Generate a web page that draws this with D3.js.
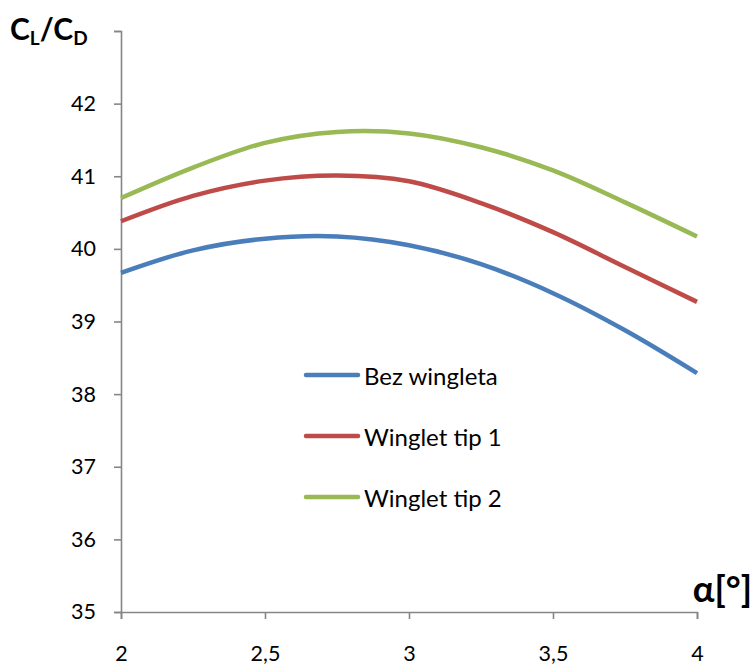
<!DOCTYPE html>
<html><head><meta charset="utf-8">
<script src="https://cdn.jsdelivr.net/npm/d3@7"></script>
<style>body{margin:0;background:#fff}svg{display:block}</style>
</head><body>
<svg id="c" width="755" height="668"></svg>
<script>
const alpha = [2, 2.25, 2.5, 2.75, 3, 3.25, 3.5, 3.75, 4];
const bezWingleta = [39.67, 39.98, 40.14, 40.17, 40.05, 39.79, 39.39, 38.88, 38.29];
const wingletTip1 = [40.38, 40.73, 40.94, 41.01, 40.93, 40.63, 40.23, 39.75, 39.27];
const wingletTip2 = [40.70, 41.12, 41.46, 41.61, 41.59, 41.40, 41.08, 40.64, 40.17];
const seriesNames = ["Bez wingleta", "Winglet tip 1", "Winglet tip 2"];
const colors = ["#4A7EBB", "#BE4B48", "#98B954"];
const xTicks = [2, 2.5, 3, 3.5, 4];
const xTickLabels = ["2", "2,5", "3", "3,5", "4"];
const yTicks = [35, 36, 37, 38, 39, 40, 41, 42, 43];

const svg = d3.select("#c");
const x = d3.scaleLinear().domain([2, 4]).range([121, 697]);
const y = d3.scaleLinear().domain([35, 43]).range([612, 31]);
const font = "Lato, 'Open Sans', sans-serif";
const axisColor = "#868686";

const yAxis = svg.append("g").attr("transform", "translate(121,0)")
  .call(d3.axisLeft(y).tickValues(yTicks).tickSize(7).tickPadding(18)
    .tickFormat(d => d === 43 ? "" : d3.format("d")(d)));
const xAxis = svg.append("g").attr("transform", "translate(0,612)")
  .call(d3.axisBottom(x).tickValues(xTicks).tickSize(7).tickPadding(27)
    .tickFormat((d, i) => xTickLabels[i]));
[yAxis, xAxis].forEach(g => {
  g.select(".domain").attr("stroke", axisColor).attr("stroke-width", 1.6);
  g.selectAll(".tick line").attr("stroke", axisColor).attr("stroke-width", 1.6);
  g.selectAll("text").attr("fill", "#000").style("font-family", font).style("font-size", "21.5px");
});

const data = [bezWingleta, wingletTip1, wingletTip2];
const line = d3.line().x((d, i) => x(alpha[i])).y(d => y(d)).curve(d3.curveCatmullRom.alpha(0.5));
data.forEach((s, k) => {
  svg.append("path").attr("d", line(s)).attr("fill", "none")
    .attr("stroke", colors[k]).attr("stroke-width", 4.5).attr("stroke-linejoin", "round");
});

// legend
const legY = [375, 436, 497];
seriesNames.forEach((n, k) => {
  svg.append("line").attr("x1", 306).attr("x2", 358).attr("y1", legY[k]).attr("y2", legY[k])
    .attr("stroke", colors[k]).attr("stroke-width", 4.5).attr("stroke-linecap", "round");
  svg.append("text").attr("x", 364).attr("y", legY[k] + 10).text(n)
    .style("font-family", font).style("font-size", "24px").attr("fill", "#000");
});

// y title
const yt = svg.append("text").attr("x", 10).attr("y", 40)
  .style("font-family", font).style("font-size", "30px").style("font-weight", "bold");
yt.append("tspan").text("C");
yt.append("tspan").text("L").attr("dy", 5).style("font-size", "19px");
yt.append("tspan").text("/C").attr("dy", -5);
yt.append("tspan").text("D").attr("dy", 5).style("font-size", "19px");

// x title
svg.append("text").attr("x", 752).attr("y", 602).attr("text-anchor", "end").text("α[°]")
  .style("font-family", font).style("font-size", "36px").style("font-weight", "bold");
</script>
</body></html>
